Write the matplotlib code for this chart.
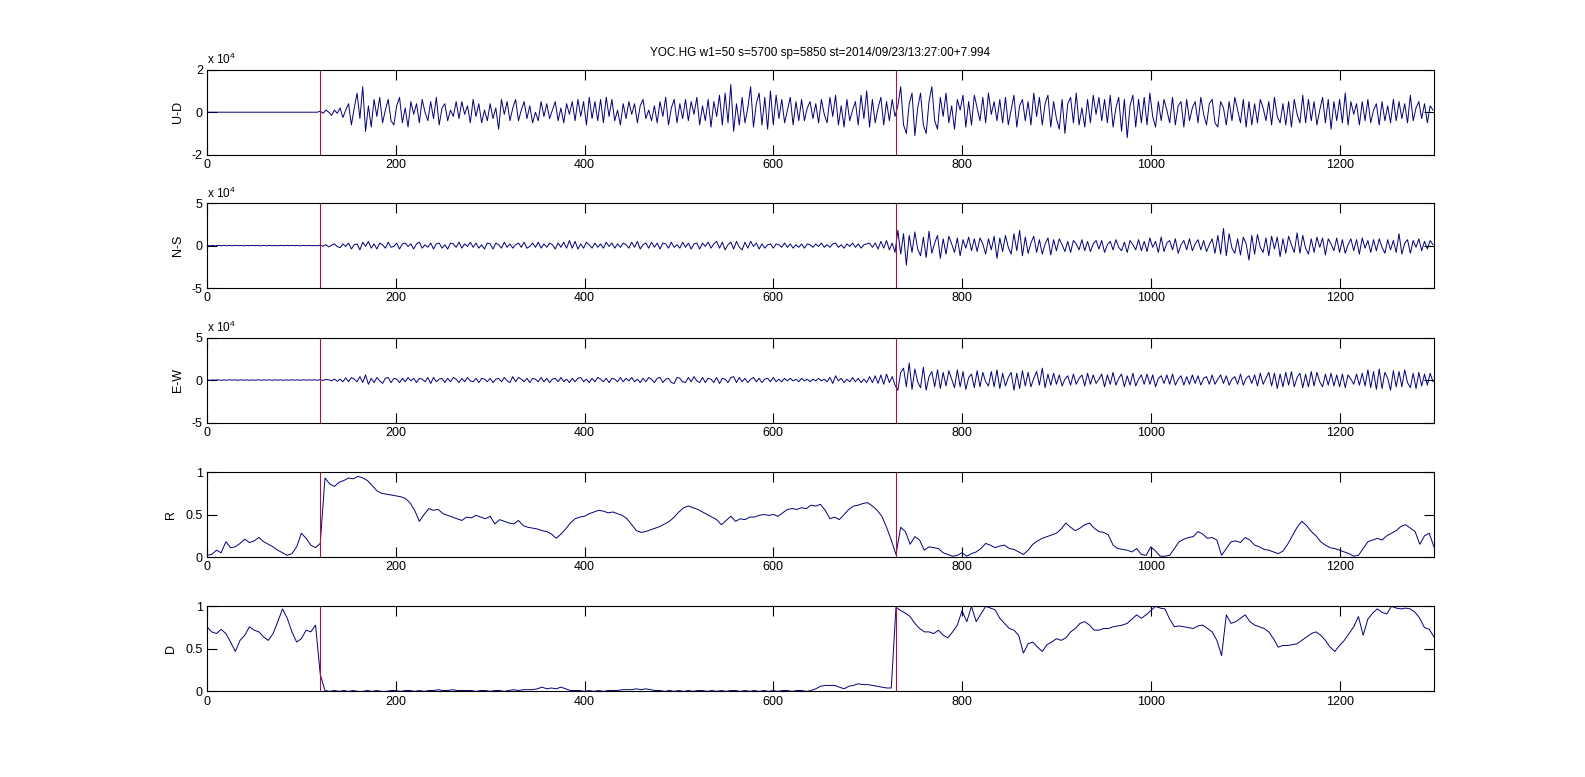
import matplotlib
matplotlib.use("Agg")
import matplotlib.pyplot as plt
import numpy as np

plt.rcParams["font.family"] = ["Liberation Sans", "DejaVu Sans"]
plt.rcParams["mathtext.fontset"] = "custom"
plt.rcParams["mathtext.rm"] = "Liberation Sans"
plt.rcParams["mathtext.it"] = "Liberation Sans"
plt.rcParams["axes.unicode_minus"] = False

titulo = "YOC.HG w1=50 s=5700 sp=5850 st=2014/09/23/13:27:00+7.994"
picks = [120, 730]

# waveforms, one value every 3 samples, in units of 1e3 counts (rows of 30 samples)
ud = [
    0, 0, 0, 0, 0, 0, 0, 0, 0, 0,
    0, 0, 0, 0, 0, 0, 0, 0, 0, 0,
    0, 0, 0, 0, 0, 0, 0, 0, 0, 0,
    0, 0, 0, 0, 0, 0, 0, 0, 0, 0,
    0.5, -0.5, 1, 0, -1.5, 1, -0.5, 2, -2.5, 1,
    4, -6, 2, 9, -3, 12, -9, 3, -7, 6,
    -2, 7, -5, 1, 6, -4, -6, 3, 7, -5,
    2, -7, 5, -1, 4, -5, 6, 0, -4, 5,
    -3, 7, -6, 2, 4, -4, 1, -2, 5, -3,
    5, -1, 3, -5, 6, -2, 4, -5, 1, -4,
    4, -3, 2, -8, 6, -1, 5, -4, 2, 6,
    -4, 1, 5, -3, 3, -5, 0, -4, 5, -2,
    4, -3, 1, 5, -4, 2, -5, 4, -1, 5,
    -4, 6, -2, 5, -6, 7, -3, 5, -4, 6,
    -5, 7, -2, 6, -4, 1, -6, 4, -3, 5,
    -1, 4, -5, 3, 6, -3, 1, -4, 3, -5,
    5, -2, 7, -6, 2, 6, -5, 4, -3, 6,
    -4, 5, -1, 7, -6, 3, -4, 6, -7, 5,
    -2, 8, -6, 9, -5, 13, -9, 4, -6, 7,
    -5, 2, 12, -7, 4, 9, -6, 7, -8, 10,
    -6, 8, -3, 6, -5, 1, 7, -6, 5, -4,
    6, -4, 2, 5, -3, 4, -5, 6, -1, -5,
    7, -2, 8, -6, 3, -7, 6, -4, 1, 5,
    -6, 8, -3, 10, -7, 6, -5, 2, 7, -6,
    5, -4, 6, -2, 3, 12, -6, -10, 4, 9,
    -11, 2, 9, -6, -10, 5, 12, -4, -8, 7,
    -2, 9, -5, 3, -8, 6, 1, 8, -7, 5,
    -6, 8, 2, -4, 7, -5, 9, -1, 5, -4,
    6, -5, 7, -6, 1, 8, -7, 3, 6, -4,
    5, -6, 9, -2, 7, -6, 4, 8, -7, 5,
    -3, -8, 6, -10, 4, 7, -5, 9, -6, 2,
    -7, 6, -5, 8, -1, 7, -4, 6, -5, 8,
    -7, 2, 7, -9, 6, -12, 3, 8, -7, 6,
    -5, 7, -6, 9, -2, -7, 5, -4, 6, 1,
    -5, 7, -6, 3, 5, -7, 6, -4, 2, 5,
    -5, 7, -1, -6, 4, 6, -5, -7, 5, 2,
    -6, 5, -4, 7, 1, -5, 6, -7, 5, -6,
    4, -5, 6, 2, -4, 5, -6, 7, -2, -5,
    4, -6, 5, -7, 6, -1, -5, 8, -5, 6,
    -4, 5, -6, 1, 7, -5, 6, -8, 5, -4,
    6, -5, 9, -6, 5, -1, 4, -6, 5, -4,
    6, -5, 1, 4, -6, 5, -4, 3, -5, 6,
    -4, 5, -3, 4, -5, 8, -4, 2, 5, -3,
    4, -5, 3, 1,
]

ns = [
    0.4, -0.3, 0.2, -0.4, 0.3, -0.2, 0.3, -0.3, 0.2, -0.2,
    0.3, -0.2, 0.1, -0.3, 0.2, -0.2, 0.3, -0.1, 0.2, -0.3,
    0.2, -0.3, 0.3, -0.2, 0.1, -0.2, 0.3, -0.2, 0.2, -0.1,
    0.3, -0.2, 0.2, -0.3, 0.2, -0.1, 0.2, -0.2, 0.1, -0.2,
    0.5, -0.8, 1, -1.5, 0.5, 2, -1, -2.5, 2, -1,
    3, -4, 1, 2, -5, 4, -1, 5, -3, 2,
    -4, 3, 1, -3, 4, -2, -1, 3, -4, 2,
    3, -1, 2, -4, 2, 4, -3, 1, -2, 3,
    -4, 2, 3, -3, 1, -4, 3, 2, -2, 4,
    -3, 2, -1, 4, -2, 3, -3, 1, -4, 3,
    2, -4, 3, 1, -3, 4, -2, 2, -3, 1,
    3, -2, 4, -3, -1, 3, -2, 4, -3, 2,
    -2, 3, 1, -4, 3, -2, 4, -3, 6, -3,
    5, -4, 2, -3, 4, 1, -3, 3, -2, 2,
    -3, 4, -1, 3, -3, 2, -2, 3, 1, -3,
    4, -2, 5, -4, 1, 3, -3, 4, -2, 3,
    -4, 3, 2, -3, 4, -2, 1, -3, 4, -2,
    3, -4, 2, 3, -4, 3, -1, 4, -3, 2,
    5, -3, 4, -5, 1, 4, -4, 5, -2, -5,
    4, -3, 5, -1, 3, -4, 2, -3, 1, 2,
    -3, 2, 1, -2, 3, -2, 2, -3, 1, -2,
    2, -3, 2, 1, -2, 2, -1, 3, -2, 1,
    -2, 2, 3, -2, 1, -3, 2, -1, 3, -2,
    2, -3, 1, 2, 3, -2, 3, -4, 5, -3,
    6, -5, 3, -8, 18, -10, 14, -23, 12, -8,
    16, -4, -12, 10, -14, 17, -9, 3, 12, -15,
    8, -10, 11, 2, -8, 9, -12, 7, -3, 10,
    -6, 8, -7, 9, 2, -10, 8, -5, 11, -15,
    9, -7, 12, -2, -10, 14, -6, 18, -12, 10,
    -9, 3, 11, -8, 7, -10, 2, 9, -11, 7,
    -6, 8, 1, -7, 5, -8, 6, 2, -5, 7,
    -6, 5, -7, 2, 6, -4, 6, -8, 1, 5,
    -5, 7, -2, -6, 4, -8, 6, 1, -5, 7,
    -6, 5, -7, 9, -2, 5, -8, 10, -7, 3,
    6, -5, 8, -9, 1, 6, -5, 8, -6, 2,
    7, -5, 6, -7, 1, 8, -9, 12, -10, 20,
    -12, 14, -3, -9, 8, -11, 10, 2, -17, 12,
    -10, 13, -2, -8, 9, -12, 11, -4, 10, -13,
    8, -9, 11, 1, -8, 15, -9, 12, -3, -10,
    8, -8, 10, -2, 9, -11, 8, 2, -6, 9,
    -8, 7, -9, 1, 8, -6, 7, -10, 9, -3,
    6, -8, 7, -6, 8, -2, -9, 7, -5, 6,
    -8, 14, -10, 3, 7, -9, 6, -2, 8, -6,
    5, -4, 6, 1,
]

ew = [
    0.3, -0.4, 0.2, -0.2, 0.3, -0.3, 0.2, -0.2, 0.3, -0.1,
    0.2, -0.3, 0.3, -0.2, 0.2, -0.3, 0.1, -0.2, 0.3, -0.2,
    0.2, -0.2, 0.3, -0.3, 0.2, -0.1, 0.2, -0.3, 0.2, -0.2,
    0.3, -0.2, 0.2, -0.3, 0.3, -0.2, 0.2, -0.1, 0.3, -0.3,
    0.5, -0.6, 0.8, 0.2, -1, 1.2, -1.5, 1, -2, 2.5,
    -2, 3, 1, -2, 4, -3, 6, -5, 2, -3,
    3, -1, -4, 2, 3, -3, 2, 1, -3, 2,
    -2, 3, -1, 2, -3, 2, 1, -2, 3, -4,
    3, -2, 1, 2, -3, 2, -2, 3, 1, -3,
    2, -2, 3, -1, -2, 2, -3, 2, 1, -2,
    2, -3, 1, 2, -2, 3, -1, -3, 4, -2,
    3, 1, -2, 2, -3, 2, 1, -2, 3, -2,
    2, -3, 1, 2, -2, 3, -2, 1, -3, 2,
    -2, 2, 3, -2, 1, -3, 2, -2, 3, 1,
    -2, 2, -3, 2, 1, -2, 3, -2, 2, -1,
    3, -2, 1, -3, 2, -2, 3, 1, -3, 2,
    3, -3, 1, 2, -3, -4, 3, 2, -2, -3,
    3, -2, 4, -1, -3, 3, -3, 2, 1, -3,
    3, -4, 2, 1, -3, 3, 4, -3, 3, -2,
    2, -3, 1, 3, -2, 2, -3, 1, 2, -2,
    3, -2, 1, -2, 2, -1, 2, -1, 1, -2,
    2, -1, 1, -2, 1, -1, 2, -1, 1, -2,
    3, -4, 5, -1, 2, -3, 1, -2, 3, -2,
    2, -3, 1, -3, 4, -3, 5, -4, 6, -5,
    7, -3, 4, -6, -12, 9, 14, -8, 20, -11,
    13, -2, -9, 15, -12, 4, 10, -8, 12, -10,
    9, -7, 11, 1, -9, 12, -8, 10, -11, 3,
    7, -9, 11, -8, 9, -2, -7, 10, -8, 12,
    -10, 8, -7, 3, 9, -12, 8, -10, 11, -7,
    9, -8, 2, 10, -6, 14, -9, 7, -6, 8,
    -5, 6, -7, 1, 5, -6, 7, -5, 2, 6,
    -7, 8, -5, 6, -4, 1, 7, -8, 6, -5,
    9, -6, 2, 7, -8, 5, -6, 8, -7, 1,
    6, -5, 7, -5, 6, -8, 2, 5, -4, 6,
    -5, 7, -6, 1, 5, -6, 4, -5, 6, -4,
    5, -6, 2, 4, -5, 6, -5, 1, 6, -4,
    5, -6, 1, 4, -5, 7, -6, 2, 5, -4,
    6, -7, 8, -5, 2, 9, -7, 8, -10, 7,
    -8, 9, -6, 10, -8, 3, 8, -9, 7, -8,
    10, -7, 9, -2, -8, 7, -6, 8, -7, 6,
    -8, 7, -9, 6, 1, -5, 7, -6, 8, -7,
    12, -9, 10, -11, 13, -10, 9, 2, -12, 11,
    -8, 10, -8, 12, -3, -9, 8, -10, 9, -7,
    7, -6, 8, -2,
]

# R and D, one value every 5 samples (rows of 50 samples)
r = [
    0.02, 0.03, 0.08, 0.05, 0.18, 0.11, 0.12, 0.16, 0.21, 0.17,
    0.19, 0.23, 0.18, 0.15, 0.12, 0.08, 0.05, 0.02, 0.04, 0.12,
    0.28, 0.22, 0.14, 0.11, 0.16, 0.93, 0.86, 0.83, 0.88, 0.90,
    0.93, 0.92, 0.95, 0.93, 0.90, 0.84, 0.78, 0.75, 0.74, 0.73,
    0.72, 0.71, 0.69, 0.64, 0.55, 0.42, 0.50, 0.57, 0.55, 0.56,
    0.51, 0.49, 0.47, 0.45, 0.43, 0.47, 0.46, 0.49, 0.47, 0.45,
    0.48, 0.39, 0.44, 0.42, 0.40, 0.39, 0.43, 0.37, 0.35, 0.34,
    0.33, 0.31, 0.30, 0.27, 0.22, 0.27, 0.33, 0.40, 0.45, 0.47,
    0.48, 0.51, 0.53, 0.55, 0.54, 0.52, 0.53, 0.51, 0.49, 0.45,
    0.38, 0.31, 0.29, 0.30, 0.32, 0.34, 0.36, 0.39, 0.42, 0.47,
    0.53, 0.58, 0.60, 0.58, 0.56, 0.53, 0.50, 0.47, 0.44, 0.38,
    0.43, 0.48, 0.42, 0.45, 0.44, 0.47, 0.47, 0.49, 0.50, 0.49,
    0.50, 0.48, 0.52, 0.56, 0.57, 0.56, 0.58, 0.57, 0.61, 0.60,
    0.62, 0.55, 0.45, 0.47, 0.44, 0.50, 0.56, 0.60, 0.61, 0.63,
    0.64, 0.60, 0.55, 0.48, 0.35, 0.20, 0.03, 0.35, 0.30, 0.15,
    0.24, 0.20, 0.08, 0.12, 0.11, 0.10, 0.05, 0.03, 0.01, 0.02,
    0.05, 0.01, 0.04, 0.06, 0.10, 0.16, 0.14, 0.11, 0.13, 0.14,
    0.10, 0.09, 0.06, 0.03, 0.08, 0.15, 0.19, 0.22, 0.24, 0.26,
    0.28, 0.33, 0.40, 0.35, 0.31, 0.34, 0.38, 0.40, 0.34, 0.30,
    0.29, 0.26, 0.14, 0.10, 0.09, 0.08, 0.06, 0.10, 0.03, 0.02,
    0.12, 0.07, 0.01, 0.01, 0.02, 0.10, 0.18, 0.21, 0.23, 0.24,
    0.30, 0.27, 0.22, 0.23, 0.20, 0.02, 0.10, 0.18, 0.19, 0.17,
    0.23, 0.20, 0.14, 0.12, 0.09, 0.08, 0.06, 0.04, 0.07, 0.15,
    0.25, 0.35, 0.42, 0.37, 0.30, 0.25, 0.18, 0.14, 0.11, 0.10,
    0.08, 0.06, 0.04, 0.01, 0.02, 0.10, 0.18, 0.20, 0.22, 0.20,
    0.25, 0.28, 0.31, 0.36, 0.38, 0.34, 0.30, 0.15, 0.25, 0.28,
    0.12,
]

d = [
    0.76, 0.70, 0.68, 0.73, 0.68, 0.58, 0.47, 0.60, 0.66, 0.76,
    0.72, 0.70, 0.64, 0.60, 0.68, 0.82, 0.97, 0.86, 0.70, 0.58,
    0.62, 0.72, 0.70, 0.78, 0.20, 0.01, 0.00, 0.01, 0.00, 0.01,
    0.00, 0.01, 0.00, 0.00, 0.01, 0.00, 0.01, 0.00, 0.00, 0.01,
    0.01, 0.00, 0.01, 0.01, 0.00, 0.01, 0.00, 0.01, 0.01, 0.02,
    0.01, 0.01, 0.02, 0.01, 0.01, 0.01, 0.01, 0.00, 0.01, 0.01,
    0.00, 0.01, 0.01, 0.00, 0.01, 0.02, 0.01, 0.02, 0.02, 0.02,
    0.03, 0.05, 0.03, 0.04, 0.03, 0.05, 0.03, 0.01, 0.01, 0.01,
    0.00, 0.01, 0.00, 0.01, 0.00, 0.01, 0.01, 0.01, 0.02, 0.02,
    0.02, 0.03, 0.02, 0.03, 0.02, 0.01, 0.01, 0.00, 0.01, 0.00,
    0.01, 0.00, 0.01, 0.00, 0.01, 0.01, 0.00, 0.01, 0.00, 0.01,
    0.00, 0.01, 0.01, 0.00, 0.01, 0.00, 0.01, 0.00, 0.01, 0.00,
    0.01, 0.00, 0.01, 0.01, 0.00, 0.01, 0.01, 0.00, 0.01, 0.03,
    0.06, 0.07, 0.07, 0.07, 0.05, 0.03, 0.06, 0.07, 0.09, 0.08,
    0.08, 0.07, 0.06, 0.05, 0.04, 0.04, 0.99, 0.95, 0.92, 0.88,
    0.80, 0.74, 0.70, 0.70, 0.68, 0.72, 0.66, 0.63, 0.70, 0.78,
    0.95, 0.82, 1.00, 0.82, 0.91, 1.00, 0.98, 0.96, 0.86, 0.80,
    0.74, 0.72, 0.66, 0.45, 0.56, 0.58, 0.52, 0.47, 0.55, 0.58,
    0.62, 0.60, 0.63, 0.70, 0.74, 0.80, 0.82, 0.78, 0.72, 0.72,
    0.74, 0.74, 0.76, 0.77, 0.78, 0.80, 0.85, 0.90, 0.86, 0.90,
    0.95, 1.00, 0.98, 0.97, 0.85, 0.76, 0.77, 0.76, 0.75, 0.74,
    0.77, 0.78, 0.74, 0.70, 0.60, 0.42, 0.90, 0.80, 0.82, 0.86,
    0.90, 0.82, 0.78, 0.76, 0.74, 0.70, 0.62, 0.52, 0.54, 0.54,
    0.55, 0.56, 0.60, 0.64, 0.68, 0.70, 0.66, 0.60, 0.52, 0.47,
    0.54, 0.60, 0.68, 0.76, 0.88, 0.66, 0.85, 0.92, 0.97, 0.93,
    0.91, 1.00, 0.98, 0.97, 0.98, 0.97, 0.93, 0.86, 0.75, 0.73,
    0.64,
]

nombres = ["U-D", "N-S", "E-W", "R", "D"]

azul = "#00007a"
rojo = "#a8123c"

fig = plt.figure(figsize=(15.85, 7.77), dpi=100)
bottoms = [0.8009, 0.6292, 0.4562, 0.2831, 0.1102]
alto = 0.1094

paneles = [
    (np.arange(len(ud)) * 3, np.array(ud) / 10.0, 2, [-2, 0, 2], ["-2", "0", "2"]),
    (np.arange(len(ns)) * 3, np.array(ns) / 10.0, 5, [-5, 0, 5], ["-5", "0", "5"]),
    (np.arange(len(ew)) * 3, np.array(ew) / 10.0, 5, [-5, 0, 5], ["-5", "0", "5"]),
    (np.arange(len(r)) * 5, np.array(r), None, [0, 0.5, 1], ["0", "0.5", "1"]),
    (np.arange(len(d)) * 5, np.array(d), None, [0, 0.5, 1], ["0", "0.5", "1"]),
]

for i, (x, y, lim, yt, ytl) in enumerate(paneles):
    ax = fig.add_axes([0.1306, bottoms[i], 0.7741, alto])
    ax.plot(x, y, color=azul, lw=0.7)
    for p in picks:
        ax.axvline(p, color=rojo, lw=0.8)
    ax.set_xlim(0, 1300)
    if lim is None:
        ax.set_ylim(0, 1)
    else:
        ax.set_ylim(-lim, lim)
        ax.text(0, 1.03, r"x 10$^4$", transform=ax.transAxes, fontsize=8.5,
                ha="left", va="bottom")
    ax.set_yticks(yt)
    ax.set_yticklabels(ytl)
    ax.set_xticks([0, 200, 400, 600, 800, 1000, 1200])
    ax.set_xticklabels(["0", "200", "400", "600", "800", "1000", "1200"])
    ax.tick_params(direction="in", top=True, right=True, length=7.5, width=0.8,
                   labelsize=9, pad=3)
    for s in ax.spines.values():
        s.set_linewidth(0.8)
    ax.set_ylabel(nombres[i], fontsize=9, labelpad=6)
    if i == 0:
        ax.set_title(titulo, fontsize=8.5, pad=10)

fig.savefig("out.png", dpi=100)
